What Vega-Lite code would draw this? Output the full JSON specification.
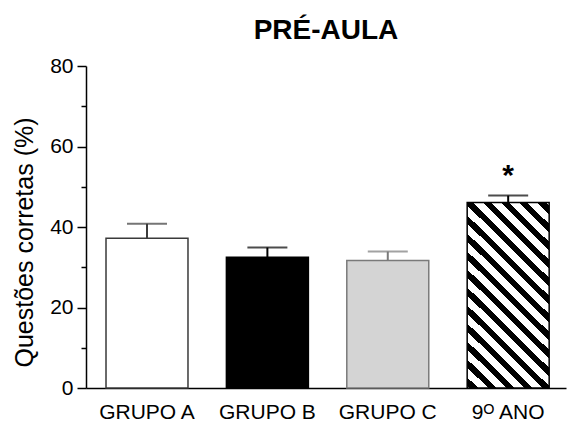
{
  "$schema": "https://vega.github.io/schema/vega-lite/v6.json",
  "width": 480,
  "height": 322,
  "autosize": {"type": "none"},
  "padding": {"left": 86, "top": 66, "right": 1, "bottom": 35},
  "background": "white",
  "title": {
    "text": "PRÉ-AULA",
    "font": "Liberation Sans",
    "fontSize": 28,
    "fontWeight": "bold",
    "color": "black",
    "anchor": "middle",
    "frame": "group",
    "offset": 10
  },
  "config": {
    "view": {"stroke": null},
    "font": "Liberation Sans"
  },
  "data": {
    "values": [
      {"grupo": "GRUPO A", "media": 37.2, "superior": 40.8, "sig": ""},
      {"grupo": "GRUPO B", "media": 32.5, "superior": 34.9, "sig": ""},
      {"grupo": "GRUPO C", "media": 31.7, "superior": 33.9, "sig": ""},
      {"grupo": "9ᴼ ANO", "media": 46.1, "superior": 47.8, "sig": "*"}
    ]
  },
  "encoding": {
    "x": {
      "field": "grupo",
      "type": "nominal",
      "sort": null,
      "scale": {
        "type": "band",
        "domain": ["GRUPO A", "GRUPO B", "GRUPO C", "9ᴼ ANO"],
        "paddingInner": 0.319,
        "paddingOuter": 0.153,
        "align": 0.543
      },
      "axis": {
        "title": null,
        "labelAngle": 0,
        "ticks": false,
        "domainColor": "black",
        "domainWidth": 1.5,
        "labelFont": "Liberation Sans",
        "labelFontSize": 21,
        "labelColor": "black",
        "labelPadding": 13,
        "grid": false
      }
    }
  },
  "layer": [
    {
      "transform": [{"filter": "datum.grupo !== '9ᴼ ANO'"}],
      "mark": {"type": "bar", "strokeWidth": 1.5},
      "encoding": {
        "y": {
          "field": "media",
          "type": "quantitative",
          "scale": {"domain": [0, 80], "nice": false},
          "axis": {
            "title": "Questões corretas (%)",
            "titleFont": "Liberation Sans",
            "titleFontSize": 25,
            "titleFontWeight": "normal",
            "titleColor": "black",
            "titlePadding": 12,
            "titleY": 176,
            "values": [0, 10, 20, 30, 40, 50, 60, 70, 80],
            "labelExpr": "datum.value % 20 === 0 ? datum.label : ''",
            "tickSize": {"condition": {"test": "datum.value % 20 === 0", "value": 9}, "value": 5},
            "tickColor": "black",
            "tickWidth": 1.5,
            "domainColor": "black",
            "domainWidth": 1.5,
            "labelFont": "Liberation Sans",
            "labelFontSize": 21,
            "labelColor": "black",
            "labelPadding": 4,
            "grid": false
          }
        },
        "fill": {
          "field": "grupo",
          "type": "nominal",
          "scale": {"domain": ["GRUPO A", "GRUPO B", "GRUPO C"], "range": ["white", "black", "#d4d4d4"]},
          "legend": null
        },
        "stroke": {
          "field": "grupo",
          "type": "nominal",
          "scale": {"domain": ["GRUPO A", "GRUPO B", "GRUPO C", "9ᴼ ANO"], "range": ["#3a3a3a", "black", "#7a7a7a", "black"]},
          "legend": null
        }
      }
    },
    {
      "transform": [{"filter": "datum.grupo === '9ᴼ ANO'"}],
      "mark": {
        "type": "bar",
        "stroke": "black",
        "strokeWidth": 1.5,
        "fill": {
          "gradient": "linear",
          "x1": 0, "y1": 1, "x2": 0.5255, "y2": -0.2066,
          "stops": [
            {"offset": 0, "color": "white"},
            {"offset": 0.01, "color": "white"}, {"offset": 0.01, "color": "black"},
            {"offset": 0.0404, "color": "black"}, {"offset": 0.0404, "color": "white"},
            {"offset": 0.0776, "color": "white"}, {"offset": 0.0776, "color": "black"},
            {"offset": 0.108, "color": "black"}, {"offset": 0.108, "color": "white"},
            {"offset": 0.1451, "color": "white"}, {"offset": 0.1451, "color": "black"},
            {"offset": 0.1755, "color": "black"}, {"offset": 0.1755, "color": "white"},
            {"offset": 0.2127, "color": "white"}, {"offset": 0.2127, "color": "black"},
            {"offset": 0.2431, "color": "black"}, {"offset": 0.2431, "color": "white"},
            {"offset": 0.2803, "color": "white"}, {"offset": 0.2803, "color": "black"},
            {"offset": 0.3107, "color": "black"}, {"offset": 0.3107, "color": "white"},
            {"offset": 0.3478, "color": "white"}, {"offset": 0.3478, "color": "black"},
            {"offset": 0.3782, "color": "black"}, {"offset": 0.3782, "color": "white"},
            {"offset": 0.4154, "color": "white"}, {"offset": 0.4154, "color": "black"},
            {"offset": 0.4458, "color": "black"}, {"offset": 0.4458, "color": "white"},
            {"offset": 0.483, "color": "white"}, {"offset": 0.483, "color": "black"},
            {"offset": 0.5134, "color": "black"}, {"offset": 0.5134, "color": "white"},
            {"offset": 0.5505, "color": "white"}, {"offset": 0.5505, "color": "black"},
            {"offset": 0.5809, "color": "black"}, {"offset": 0.5809, "color": "white"},
            {"offset": 0.6181, "color": "white"}, {"offset": 0.6181, "color": "black"},
            {"offset": 0.6485, "color": "black"}, {"offset": 0.6485, "color": "white"},
            {"offset": 0.6857, "color": "white"}, {"offset": 0.6857, "color": "black"},
            {"offset": 0.7161, "color": "black"}, {"offset": 0.7161, "color": "white"},
            {"offset": 0.7532, "color": "white"}, {"offset": 0.7532, "color": "black"},
            {"offset": 0.7836, "color": "black"}, {"offset": 0.7836, "color": "white"},
            {"offset": 0.8208, "color": "white"}, {"offset": 0.8208, "color": "black"},
            {"offset": 0.8512, "color": "black"}, {"offset": 0.8512, "color": "white"},
            {"offset": 0.8884, "color": "white"}, {"offset": 0.8884, "color": "black"},
            {"offset": 0.9188, "color": "black"}, {"offset": 0.9188, "color": "white"},
            {"offset": 0.9559, "color": "white"}, {"offset": 0.9559, "color": "black"},
            {"offset": 0.9863, "color": "black"}, {"offset": 0.9863, "color": "white"},
            {"offset": 1, "color": "white"}
          ]
        }
      },
      "encoding": {
        "y": {"field": "media", "type": "quantitative"}
      }
    },
    {
      "mark": {"type": "rule", "strokeWidth": 2},
      "encoding": {
        "y": {"field": "media", "type": "quantitative"},
        "y2": {"field": "superior"},
        "stroke": {"field": "grupo", "type": "nominal", "legend": null}
      }
    },
    {
      "mark": {"type": "tick", "size": 40, "thickness": 2},
      "encoding": {
        "y": {"field": "superior", "type": "quantitative"},
        "color": {"field": "grupo", "type": "nominal", "scale": {"domain": ["GRUPO A", "GRUPO B", "GRUPO C", "9ᴼ ANO"], "range": ["#3a3a3a", "black", "#7a7a7a", "black"]}, "legend": null}
      }
    },
    {
      "mark": {"type": "text", "font": "Liberation Sans", "fontSize": 30, "fontWeight": "bold", "baseline": "alphabetic", "dy": -11, "color": "black"},
      "encoding": {
        "y": {"field": "superior", "type": "quantitative"},
        "text": {"field": "sig"}
      }
    }
  ]
}
